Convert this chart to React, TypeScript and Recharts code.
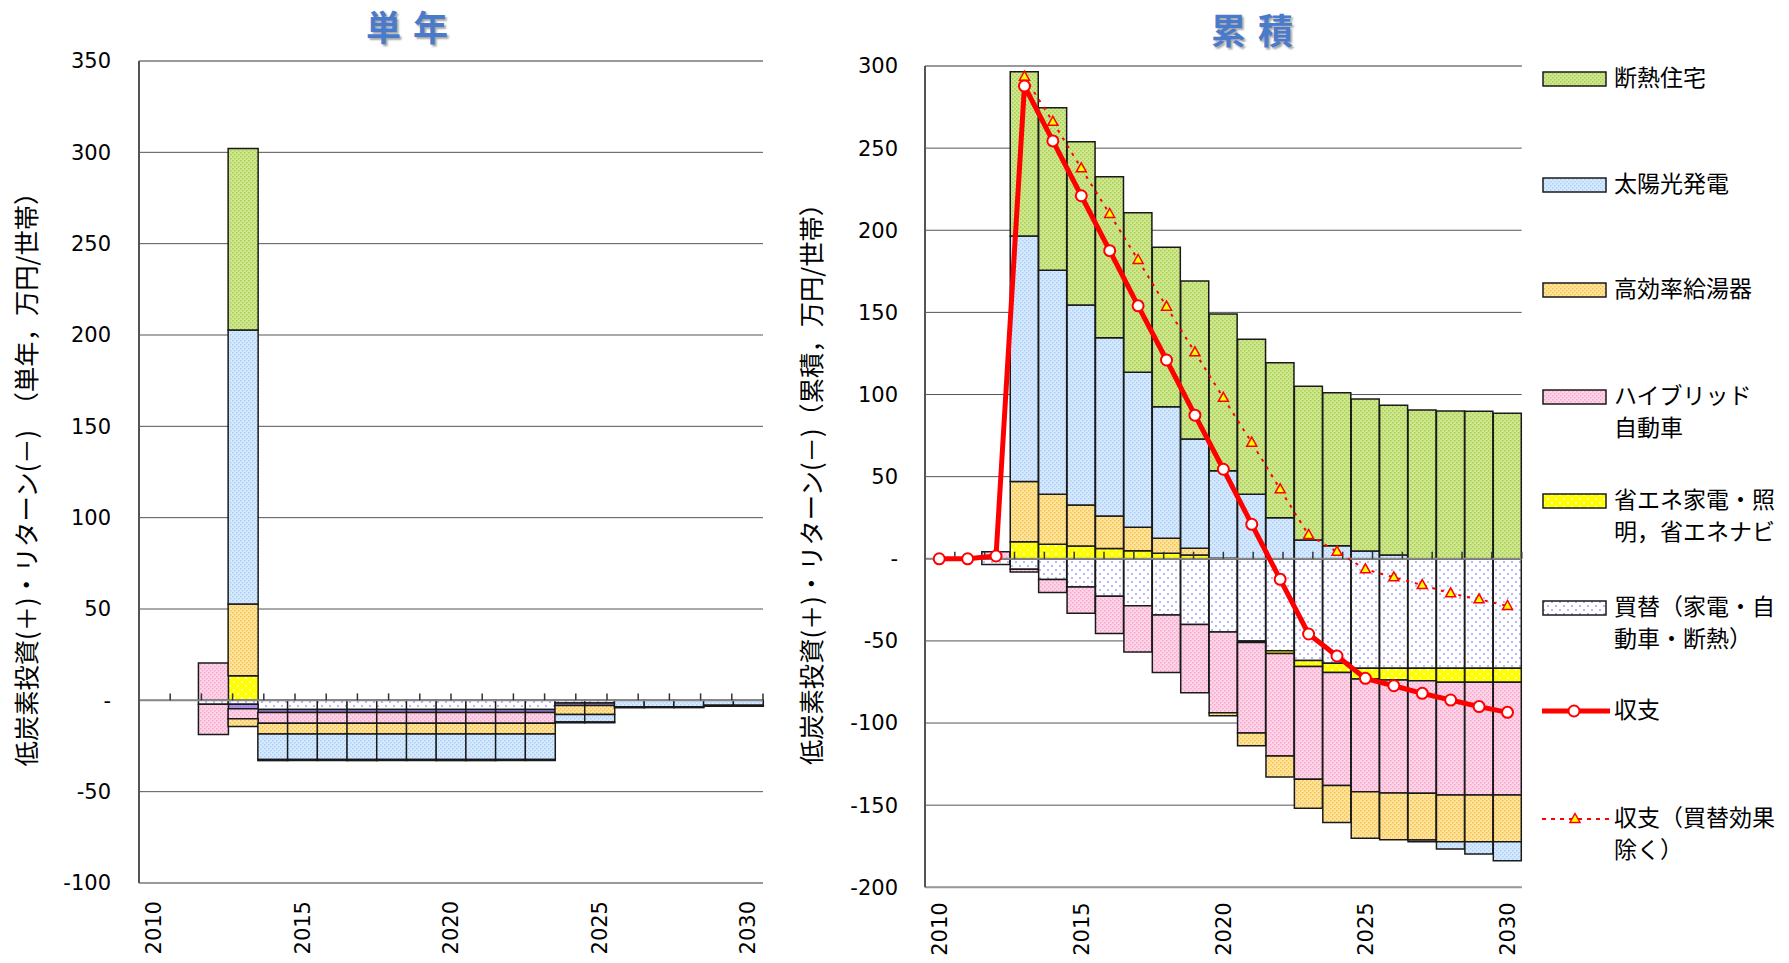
import React from 'react'
import { ComposedChart, Bar, Line, XAxis, YAxis, CartesianGrid, ReferenceLine } from 'recharts'

const YEARS = [2010, 2011, 2012, 2013, 2014, 2015, 2016, 2017, 2018, 2019, 2020,
  2021, 2022, 2023, 2024, 2025, 2026, 2027, 2028, 2029, 2030]

// 単年 (single year): investment (+) and return (-) per item
const L_KAIKAE   = [0, 0, -2.2, -2.2, -5, -5, -5, -5, -5, -5, -5, -5, -5, -5, -1.5, -1.5, 0, 0, 0, 0, 0]
const L_YELLOW_P = [0, 0, 0, 13.5, 0, 0, 0, 0, 0, 0, 0, 0, 0, 0, 0, 0, 0, 0, 0, 0, 0]
const L_YELLOW_N = [0, 0, 0, -2.4, -1.7, -1.7, -1.7, -1.7, -1.7, -1.7, -1.7, -1.7, -1.7, -1.7, -1.3, -1.3, 0, 0, 0, 0, 0]
const L_PINK_P   = [0, 0, 20.4, 0, 0, 0, 0, 0, 0, 0, 0, 0, 0, 0, 0, 0, 0, 0, 0, 0, 0]
const L_PINK_N   = [0, 0, -16.5, -5.5, -5.9, -5.9, -5.9, -5.9, -5.9, -5.9, -5.9, -5.9, -5.9, -5.9, 0, 0, 0, 0, 0, 0, 0]
const L_ORANGE_P = [0, 0, 0, 39.3, 0, 0, 0, 0, 0, 0, 0, 0, 0, 0, 0, 0, 0, 0, 0, 0, 0]
const L_ORANGE_N = [0, 0, 0, -4.2, -5.8, -5.8, -5.8, -5.8, -5.8, -5.8, -5.8, -5.8, -5.8, -5.8, -5, -5, 0, 0, 0, 0, 0]
const L_BLUE_P   = [0, 0, 0, 150, 0, 0, 0, 0, 0, 0, 0, 0, 0, 0, 0, 0, 0, 0, 0, 0, 0]
const L_BLUE_N   = [0, 0, 0, 0, -14, -14, -14, -14, -14, -14, -14, -14, -14, -14, -4, -4, -3.5, -3.5, -3.5, -2.7, -2.7]
const L_GREEN_P  = [0, 0, 0, 99.3, 0, 0, 0, 0, 0, 0, 0, 0, 0, 0, 0, 0, 0, 0, 0, 0, 0]
const L_GREEN_N  = [0, 0, 0, 0, -0.6, -0.6, -0.6, -0.6, -0.6, -0.6, -0.6, -0.6, -0.6, -0.6, -0.5, -0.5, -0.5, -0.5, -0.5, -0.5, -0.5]

// 累積 (cumulative)
const R_KAIKAE = [0, 0, -3.5, -6.4, -12.6, -17.2, -22.8, -28.6, -34.3, -40, -44.6, -50.1, -56, -62, -63.6, -66.7, -66.7, -66.7, -66.7, -66.7, -66.7]
const R_YELLOW = [0, 0, 0, 10.4, 8.8, 7.8, 6.2, 4.9, 3.3, 2.3, 0.3, -0.8, -1.6, -3.6, -5.7, -6.5, -7.1, -7.5, -8.5, -8.5, -8.5]
const R_PINK   = [0, 0, 4.3, -1.7, -8, -16, -22.7, -28.2, -35, -41.6, -49.2, -55.2, -62.5, -68.6, -68.8, -68.6, -68.8, -68.6, -68.6, -68.6, -68.6]
const R_ORANGE = [0, 0, 0, 36.6, 30.5, 25, 19.8, 14.3, 9.2, 4.1, -1.7, -7.8, -12.7, -17.7, -22.5, -28.4, -28.4, -28.4, -28.4, -28.4, -28.4]
const R_BLUE   = [0, 0, 0, 149.5, 136.3, 121.7, 108.6, 94.3, 80.1, 66.5, 53.3, 39.3, 25, 11.4, 8, 4.7, 2.3, -1, -4.5, -7.6, -11.7]
const R_GREEN  = [0, 0, 0, 100, 99, 99.4, 98, 97.2, 97, 96.2, 95.4, 94.3, 94.4, 93.6, 93.1, 92.6, 91.1, 90.6, 90, 89.8, 88.6]
const R_NET    = [0, 0, 1.7, 287.8, 254.4, 221, 187.6, 154, 121, 87.4, 54.5, 21, -12.5, -45.8, -59.2, -72.8, -77.3, -81.9, -86, -90, -93.5]
const R_NET_EX = [null, null, null, 293.5, 266, 237.7, 209.9, 181.9, 153.5, 125.7, 98, 70.7, 42.3, 14.5, 4.3, -6.4, -11.3, -16, -21, -24.7, -28.7]

const L_TICKS = [-100, -50, 0, 50, 100, 150, 200, 250, 300, 350]
const R_TICKS = [-200, -150, -100, -50, 0, 50, 100, 150, 200, 250, 300]

const LEGEND = [
  { fill: 'url(#pGreen)', lines: ['断熱住宅'], y: 79 },
  { fill: 'url(#pBlue)', lines: ['太陽光発電'], y: 185 },
  { fill: 'url(#pOrange)', lines: ['高効率給湯器'], y: 290 },
  { fill: 'url(#pPink)', lines: ['ハイブリッド', '自動車'], y: 397 },
  { fill: 'url(#pYellow)', lines: ['省エネ家電・照', '明，省エネナビ'], y: 501 },
  { fill: 'url(#pKaikae)', lines: ['買替（家電・自', '動車・断熱）'], y: 608 },
]

const NUM_FONT = 'DejaVu Sans'
const JP_FONT = '"Noto Sans CJK JP", "Noto Sans", sans-serif'
const STROKE = '#1a1a1a'
const TXT_SHIFT = 19

const fmt = (v: number) => (v === 0 ? '-' : String(v))

const YearTick = ({ x, y, payload, off }: any) => {
  const ty = y + off
  return (
    <text x={x} y={ty} transform={`rotate(-90 ${x} ${ty})`} textAnchor="end" dy="0.35em"
      fontSize={21} fontFamily={NUM_FONT} fill="#000">{payload.value}</text>
  )
}

const Circle = (p: any) => {
  if (p.cy == null || p.value == null) return <g key={`c${p.index}`} />
  return <circle key={`c${p.index}`} cx={p.cx} cy={p.cy} r={5.5} fill="#fff" stroke="#ff0000" strokeWidth={2} />
}

const Tri = (p: any) => {
  if (p.cy == null || p.value == null) return <g key={`t${p.index}`} />
  const { cx, cy } = p
  return <path key={`t${p.index}`} d={`M${cx},${cy - 5.5} L${cx + 5},${cy + 3.5} L${cx - 5},${cy + 3.5} Z`}
    fill="#ffff00" stroke="#ff0000" strokeWidth={1.5} />
}

const bar = (key: string, fill: string) => (
  <Bar key={key} dataKey={key} stackId="s" fill={fill} stroke={STROKE} strokeWidth={1.5} isAnimationActive={false} />
)

function Patterns() {
  const dots = (id: string, base: string, dot: string) => (
    <pattern id={id} width={4} height={4} patternUnits="userSpaceOnUse">
      <rect width={4} height={4} fill={base} />
      <rect width={1.5} height={1.5} fill={dot} />
      <rect x={2} y={2} width={1.5} height={1.5} fill={dot} />
    </pattern>
  )
  return (
    <svg width={0} height={0} style={{ position: 'absolute' }}>
      <defs>
        {dots('pGreen', '#cfe78e', '#a8cf55')}
        {dots('pBlue', '#d6eaff', '#aecff5')}
        {dots('pOrange', '#ffe49a', '#f2c355')}
        {dots('pPink', '#ffd4e8', '#f4aacd')}
        <pattern id="pYellow" width={8} height={8} patternUnits="userSpaceOnUse">
          <rect width={8} height={8} fill="#ffff00" />
          <circle cx={2} cy={2} r={0.9} fill="#fff" />
          <circle cx={6} cy={6} r={0.9} fill="#fff" />
        </pattern>
        <pattern id="pKaikae" width={8} height={8} patternUnits="userSpaceOnUse">
          <rect width={8} height={8} fill="#ffffff" />
          <circle cx={2} cy={2} r={1.1} fill="#a6a6ff" />
          <circle cx={6} cy={6} r={1.1} fill="#a6a6ff" />
        </pattern>
      </defs>
    </svg>
  )
}

function zeroTicks(len: number) {
  return YEARS.slice(1).map((_, i) => (
    <ReferenceLine key={`zt${i}`} xAxisId="e" segment={[{ x: i + 1, y: 0 }, { x: i + 1, y: len }]}
      stroke="#333" strokeWidth={1.5} />
  ))
}

export default function App() {
  const leftData = YEARS.map((year, i) => ({
    year,
    kaikae: L_KAIKAE[i], yellowP: L_YELLOW_P[i], yellowN: L_YELLOW_N[i],
    pinkP: L_PINK_P[i], pinkN: L_PINK_N[i], orangeP: L_ORANGE_P[i], orangeN: L_ORANGE_N[i],
    blueP: L_BLUE_P[i], blueN: L_BLUE_N[i], greenP: L_GREEN_P[i], greenN: L_GREEN_N[i],
  }))
  const rightData = YEARS.map((year, i) => ({
    year, kaikae: R_KAIKAE[i], yellow: R_YELLOW[i], pink: R_PINK[i], orange: R_ORANGE[i],
    blue: R_BLUE[i], green: R_GREEN[i], net: R_NET[i], netEx: R_NET_EX[i],
  }))

  const yTick = { fontSize: 21, fill: '#000', fontFamily: NUM_FONT }
  const title = {
    position: 'absolute' as const, transform: 'translate(-50%,-50%)', fontSize: 35, fontWeight: 'bold' as const,
    color: '#4a7acb', letterSpacing: 12, paddingLeft: 12, textShadow: '2px 2px 2px rgba(0,0,0,0.35)',
    fontFamily: JP_FONT, whiteSpace: 'nowrap' as const,
  }
  const axisTitle = {
    position: 'absolute' as const, transform: 'translate(-50%,-50%) rotate(-90deg)', fontSize: 25.3,
    fontFamily: JP_FONT, whiteSpace: 'nowrap' as const, color: '#000',
  }
  const legText = {
    position: 'absolute' as const, left: 1614, fontSize: 23, lineHeight: '32px', fontFamily: JP_FONT,
    color: '#000', whiteSpace: 'nowrap' as const,
  }

  return (
    <div style={{ position: 'absolute', left: 0, top: 0, width: 1789, height: 963, background: '#fff', overflow: 'hidden' }}>
      <Patterns />
      <div style={{ ...title, left: 407, top: 25 }}>単年</div>
      <div style={{ ...title, left: 1252, top: 28 }}>累積</div>
      <div style={{ ...axisTitle, left: 25, top: 473 }}>低炭素投資(＋)・リターン(－)　（単年，万円/世帯）</div>
      <div style={{ ...axisTitle, left: 810, top: 478 }}>低炭素投資(＋)・リターン(－)（累積，万円/世帯）</div>

      <div style={{ position: 'absolute', left: 0, top: 0 }}>
        <ComposedChart width={800} height={963} data={leftData} stackOffset="sign"
          barCategoryGap={0} barGap={0} margin={{ top: 61, right: 37, bottom: 0, left: 79 }}>
          <CartesianGrid vertical={false} stroke="#555" strokeWidth={1} />
          <XAxis dataKey="year" interval={4} tickLine={false} axisLine={false} tickSize={0} tickMargin={0} height={80}
            tick={(p: any) => <YearTick {...p} off={18} />} />
          <XAxis xAxisId="e" type="number" domain={[0, 21]} hide allowDataOverflow />
          <YAxis domain={[-100, 350]} ticks={L_TICKS} width={60} tickLine={false} tickSize={0} tickMargin={28}
            axisLine={{ stroke: '#555', strokeWidth: 2 }} tick={yTick} tickFormatter={fmt} interval={0} />
          <YAxis yAxisId="r" orientation="right" domain={[-100, 350]} width={0} tick={false} tickLine={false}
            axisLine={{ stroke: '#999', strokeWidth: 2 }} />
          <ReferenceLine y={350} stroke="#999" strokeWidth={2} />
          <ReferenceLine y={-100} stroke="#999" strokeWidth={2} />
          <ReferenceLine y={0} stroke="#888" strokeWidth={2} />
          {zeroTicks(3.8)}
          {bar('kaikae', 'url(#pKaikae)')}
          {bar('yellowP', 'url(#pYellow)')}
          {bar('yellowN', '#a88ce6')}
          {bar('pinkP', 'url(#pPink)')}
          {bar('pinkN', 'url(#pPink)')}
          {bar('orangeP', 'url(#pOrange)')}
          {bar('orangeN', 'url(#pOrange)')}
          {bar('blueP', 'url(#pBlue)')}
          {bar('blueN', 'url(#pBlue)')}
          {bar('greenP', 'url(#pGreen)')}
          {bar('greenN', 'url(#pGreen)')}
        </ComposedChart>
      </div>

      <div style={{ position: 'absolute', left: 830, top: 0 }}>
        <ComposedChart width={720} height={963} data={rightData} stackOffset="sign"
          barCategoryGap={0} barGap={0} margin={{ top: 66, right: 28.3, bottom: 0, left: 35 }}>
          <CartesianGrid vertical={false} stroke="#555" strokeWidth={1} />
          <XAxis dataKey="year" interval={4} tickLine={false} axisLine={false} tickSize={0} tickMargin={0} height={75.7}
            tick={(p: any) => <YearTick {...p} off={15} />} />
          <XAxis xAxisId="e" type="number" domain={[0, 21]} hide allowDataOverflow />
          <YAxis domain={[-200, 300]} ticks={R_TICKS} width={60} tickLine={false} tickSize={0} tickMargin={27}
            axisLine={{ stroke: '#555', strokeWidth: 2 }} tick={yTick} tickFormatter={fmt} interval={0} />
          <YAxis yAxisId="r" orientation="right" domain={[-200, 300]} width={0} tick={false} tickLine={false}
            axisLine={{ stroke: '#999', strokeWidth: 2 }} />
          <ReferenceLine y={300} stroke="#999" strokeWidth={2} />
          <ReferenceLine y={-200} stroke="#999" strokeWidth={2} />
          <ReferenceLine y={0} stroke="#888" strokeWidth={2} />
          {zeroTicks(4.3)}
          {bar('kaikae', 'url(#pKaikae)')}
          {bar('yellow', 'url(#pYellow)')}
          {bar('pink', 'url(#pPink)')}
          {bar('orange', 'url(#pOrange)')}
          {bar('blue', 'url(#pBlue)')}
          {bar('green', 'url(#pGreen)')}
          <Line dataKey="netEx" type="linear" stroke="#ff0000" strokeWidth={2} strokeDasharray="3 6"
            dot={Tri} activeDot={false} isAnimationActive={false} />
          <Line dataKey="net" type="linear" stroke="#ff0000" strokeWidth={5}
            dot={Circle} activeDot={false} isAnimationActive={false} />
        </ComposedChart>
      </div>

      {LEGEND.map((it, i) => (
        <React.Fragment key={i}>
          <svg style={{ position: 'absolute', left: 1542, top: it.y - 8 }} width={66} height={16}>
            <rect x={1} y={1} width={63} height={14} fill={it.fill} stroke={STROKE} strokeWidth={1.5} />
          </svg>
          <div style={{ ...legText, top: it.y - TXT_SHIFT }}>
            {it.lines.map((l, j) => <div key={j}>{l}</div>)}
          </div>
        </React.Fragment>
      ))}
      <svg style={{ position: 'absolute', left: 1540, top: 702 }} width={72} height={18}>
        <line x1={2} y1={9} x2={70} y2={9} stroke="#ff0000" strokeWidth={5} />
        <circle cx={34} cy={9} r={5.5} fill="#fff" stroke="#ff0000" strokeWidth={2} />
      </svg>
      <div style={{ ...legText, top: 711 - TXT_SHIFT }}>収支</div>
      <svg style={{ position: 'absolute', left: 1540, top: 810 }} width={72} height={18}>
        <line x1={2} y1={9} x2={70} y2={9} stroke="#ff0000" strokeWidth={2} strokeDasharray="4 5" />
        <path d="M35,3.5 L40,12.5 L30,12.5 Z" fill="#ffff00" stroke="#ff0000" strokeWidth={1.5} />
      </svg>
      <div style={{ ...legText, top: 819 - TXT_SHIFT }}>
        <div>収支（買替効果</div>
        <div>除く）</div>
      </div>
    </div>
  )
}
